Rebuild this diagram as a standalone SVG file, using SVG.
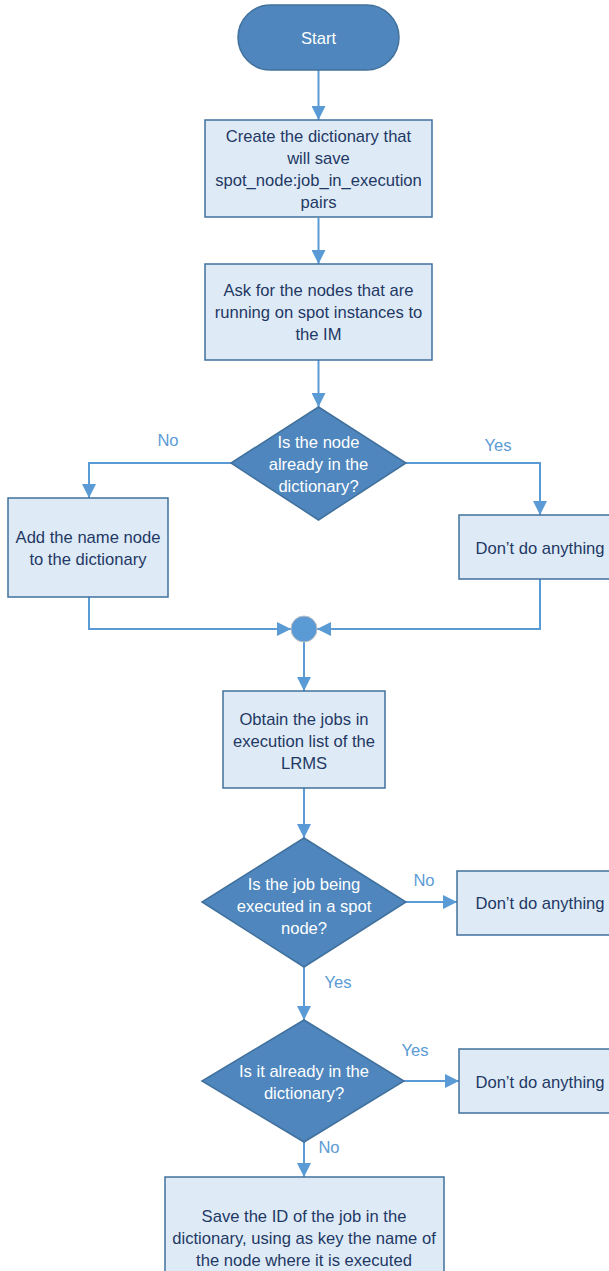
<svg xmlns="http://www.w3.org/2000/svg" width="609" height="1271" viewBox="0 0 609 1271">
<style>
.box{fill:#DEEBF7;stroke:#41719C;stroke-width:1.5}
.dec{fill:#4E86BD;stroke:#41719C;stroke-width:1.5}
.t{font-family:"Liberation Sans",Arial,sans-serif;font-size:16.6px;fill:#1F3864;text-anchor:middle}
.tw{font-family:"Liberation Sans",Arial,sans-serif;font-size:16.6px;fill:#FFFFFF;text-anchor:middle}
.lbl{font-family:"Liberation Sans",Arial,sans-serif;font-size:16.6px;fill:#5B9BD5;text-anchor:middle}
.c{fill:none;stroke:#5B9BD5;stroke-width:2}
</style>
<defs>
<marker id="ah" markerUnits="userSpaceOnUse" markerWidth="14" markerHeight="14" viewBox="0 0 14 14" refX="14" refY="7" orient="auto">
<path d="M0,0 L14,7 L0,14 Z" fill="#5B9BD5"/>
</marker>
</defs>
<g id="connectors">
<path class="c" d="M318.5,70 V120" marker-end="url(#ah)"/>
<path class="c" d="M318.5,218 V264" marker-end="url(#ah)"/>
<path class="c" d="M318.5,360 V407" marker-end="url(#ah)"/>
<path class="c" d="M231,463 H89 V498" marker-end="url(#ah)"/>
<path class="c" d="M406,463 H540 V515" marker-end="url(#ah)"/>
<path class="c" d="M89,597 V629 H291" marker-end="url(#ah)"/>
<path class="c" d="M540,579 V629 H317" marker-end="url(#ah)"/>
<path class="c" d="M304,642 V691" marker-end="url(#ah)"/>
<path class="c" d="M304,788 V838" marker-end="url(#ah)"/>
<path class="c" d="M406,902 H457" marker-end="url(#ah)"/>
<path class="c" d="M304,967 V1020" marker-end="url(#ah)"/>
<path class="c" d="M404,1081 H459" marker-end="url(#ah)"/>
<path class="c" d="M304,1142 V1177" marker-end="url(#ah)"/>
<text class="lbl" x="168" y="446">No</text>
<text class="lbl" x="498" y="451">Yes</text>
<text class="lbl" x="424" y="886">No</text>
<text class="lbl" x="338" y="988">Yes</text>
<text class="lbl" x="415" y="1056">Yes</text>
<text class="lbl" x="329" y="1153">No</text>
</g>
<g id="start">
<rect x="238" y="5" width="161" height="65" rx="32.5" class="dec"/>
<text class="tw" x="318.5" y="44">Start</text>
</g>
<g id="create-dict">
<rect class="box" x="205" y="120" width="227" height="97"/>
<text class="t" x="318.5" y="142">Create the dictionary that</text>
<text class="t" x="318.5" y="164">will save</text>
<text class="t" x="318.5" y="186">spot_node:job_in_execution</text>
<text class="t" x="318.5" y="208">pairs</text>
</g>
<g id="ask-nodes">
<rect class="box" x="205" y="264" width="227" height="96"/>
<text class="t" x="318.5" y="296">Ask for the nodes that are</text>
<text class="t" x="318.5" y="318">running on spot instances to</text>
<text class="t" x="318.5" y="340">the IM</text>
</g>
<g id="dec1">
<path class="dec" d="M318.5,407 L406,463 L318.5,520 L231,463 Z"/>
<text class="tw" x="318.5" y="448">Is the node</text>
<text class="tw" x="318.5" y="470">already in the</text>
<text class="tw" x="318.5" y="492">dictionary?</text>
</g>
<g id="add-node">
<rect class="box" x="8" y="498" width="160" height="99"/>
<text class="t" x="88" y="543">Add the name node</text>
<text class="t" x="88" y="565">to the dictionary</text>
</g>
<g id="nothing1">
<rect class="box" x="459" y="515" width="152" height="64"/>
<text class="t" x="540" y="554">Don’t do anything</text>
</g>
<g id="merge">
<circle cx="304" cy="629" r="13" fill="#5B9BD5" stroke="#BFBFBF" stroke-width="1"/>
</g>
<g id="obtain-jobs">
<rect class="box" x="223" y="691" width="162" height="97"/>
<text class="t" x="304" y="725">Obtain the jobs in</text>
<text class="t" x="304" y="747">execution list of the</text>
<text class="t" x="304" y="769">LRMS</text>
</g>
<g id="dec2">
<path class="dec" d="M304,838 L406,902 L304,967 L202,902 Z"/>
<text class="tw" x="304" y="890">Is the job being</text>
<text class="tw" x="304" y="912">executed in a spot</text>
<text class="tw" x="304" y="934">node?</text>
</g>
<g id="nothing2">
<rect class="box" x="457" y="871" width="154" height="64"/>
<text class="t" x="540" y="909">Don’t do anything</text>
</g>
<g id="dec3">
<path class="dec" d="M304,1020 L404,1081 L304,1142 L202,1081 Z"/>
<text class="tw" x="304" y="1077">Is it already in the</text>
<text class="tw" x="304" y="1099">dictionary?</text>
</g>
<g id="nothing3">
<rect class="box" x="459" y="1049" width="152" height="64"/>
<text class="t" x="540" y="1088">Don’t do anything</text>
</g>
<g id="save-id">
<rect class="box" x="165" y="1177" width="279" height="100"/>
<text class="t" x="304" y="1222">Save the ID of the job in the</text>
<text class="t" x="304" y="1244">dictionary, using as key the name of</text>
<text class="t" x="304" y="1266">the node where it is executed</text>
</g>
</svg>
